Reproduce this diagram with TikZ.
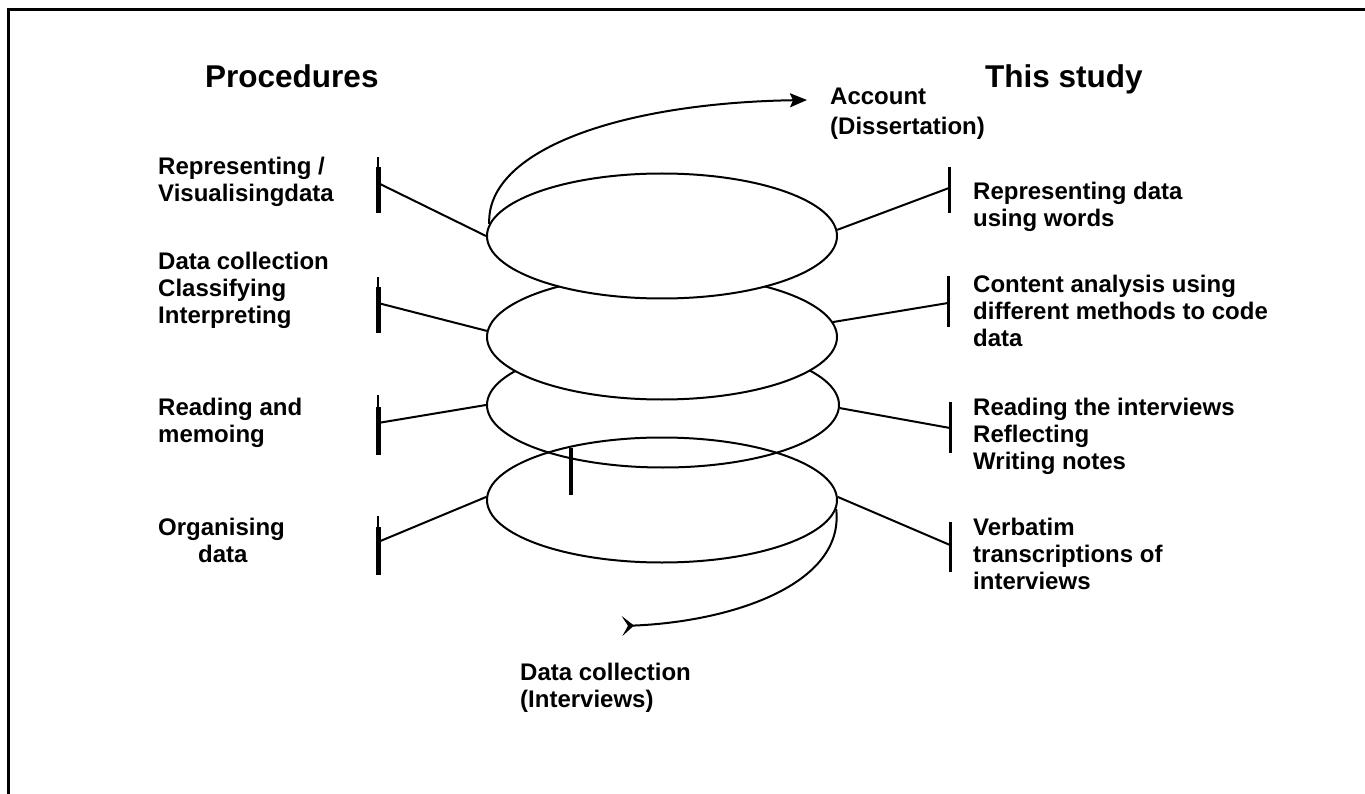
\documentclass[tikz,border=0pt]{standalone}
\usepackage{fontspec}
\setmainfont{Liberation Sans}
\usetikzlibrary{arrows.meta,shapes.geometric}
\begin{document}
\begin{tikzpicture}[x=1pt,y=-1pt,
  lbl/.style={anchor=base west, inner sep=0pt, font=\fontsize{24}{27}\selectfont\bfseries},
  head/.style={anchor=base west, inner sep=0pt, font=\fontsize{31.5}{36}\selectfont\bfseries},
  ring/.style={ellipse, draw=black, line width=2pt, inner sep=0pt, minimum width=350pt, minimum height=125pt},
  conn/.style={line width=2pt, black},
  lbar/.style={line width=5pt, black},
  ltick/.style={line width=1.2pt, black},
  rbar/.style={line width=3pt, black}]
\useasboundingbox (0,0) rectangle (1365,794);
% frame (top and left only)
\draw[line width=3pt] (8,794) -- (8,10) -- (1365,10);

% headings
\node[head] (hproc) at (205,88) {Procedures};
\node[head] (hstudy) at (985,88) {This study};

% rings (drawn from bottom to top)
\node[ring] (e4) at (662,500) {};
\node[ring, minimum width=352pt] (e3) at (663,405) {};
\node[ring, fill=white] (e2) at (662,337) {};
\node[ring, fill=white] (e1) at (662,236) {};

% left bars
\coordinate (lb1) at (378,183);
\coordinate (lb2) at (378,303);
\coordinate (lb3) at (378,423);
\coordinate (lb4) at (378,542);
\draw[lbar] (378,167) -- (378,213);
\draw[ltick] (378,157) -- (378,168);
\draw[lbar] (378,287) -- (378,333);
\draw[ltick] (378,277) -- (378,288);
\draw[lbar] (378,407) -- (378,455);
\draw[ltick] (378,395) -- (378,408);
\draw[lbar] (378,527) -- (378,575);
\draw[ltick] (378,516) -- (378,528);

% right bars
\coordinate (rb1) at (949,188);
\coordinate (rb2) at (948,303);
\coordinate (rb3) at (950,428);
\coordinate (rb4) at (950,545);
\draw[rbar] (949,167) -- (949,213);
\draw[rbar] (948,276) -- (948,327);
\draw[rbar] (950,402) -- (950,453);
\draw[rbar] (950,522) -- (950,572);

% connectors
\draw[conn] (lb1) -- (e1.west);
\draw[conn] (lb2) -- (e2.178);
\draw[conn] (lb3) -- (e3.west);
\draw[conn] (lb4) -- (e4.179);
\draw[conn] (e1.2) -- (rb1);
\draw[conn] (e2.5) -- (rb2);
\draw[conn] (e3.-1) -- (rb3);
\draw[conn] (e4.1) -- (rb4);

% middle bar
\draw[line width=4pt] (571,448) -- (571,495);

% spiral arrows
\coordinate (acc) at (807,100);
\coordinate (dcol) at (622,626);
\draw[conn, -{Stealth[length=17pt,width=14pt,inset=3pt]}] (e1.176) .. controls (486,150) and (620,103) .. (acc);
\draw[conn, -{Stealth[reversed,length=12pt,width=20pt,inset=6pt]}] (e4.-3) .. controls (845,585) and (730,622) .. (dcol);

% labels
\node[lbl, font=\fontsize{24}{30}\selectfont\bfseries] (tacc) at (830,105) {\vtop{\hbox{Account}\hbox{(Dissertation)}}};
\node[lbl] (tdc) at (520,680) {\vtop{\hbox{Data collection}\hbox{(Interviews)}}};

\node[lbl] (l1) at (158,175) {\vtop{\hbox{Representing /}\hbox{Visualisingdata}}};
\node[lbl] (l2) at (158,270) {\vtop{\hbox{Data collection}\hbox{Classifying}\hbox{Interpreting}}};
\node[lbl] (l3) at (158,415) {\vtop{\hbox{Reading and}\hbox{memoing}}};
\node[lbl] (l4) at (158,535) {\vtop{\hbox{Organising}\hbox{\hspace*{40pt}data}}};

\node[lbl] (r1) at (973,200) {\vtop{\hbox{Representing data}\hbox{using words}}};
\node[lbl] (r2) at (973,293) {\vtop{\hbox{Content analysis using}\hbox{different methods to code}\hbox{data}}};
\node[lbl] (r3) at (973,415) {\vtop{\hbox{Reading the interviews}\hbox{Reflecting}\hbox{Writing notes}}};
\node[lbl] (r4) at (973,535) {\vtop{\hbox{Verbatim}\hbox{transcriptions of}\hbox{interviews}}};
\end{tikzpicture}
\end{document}
